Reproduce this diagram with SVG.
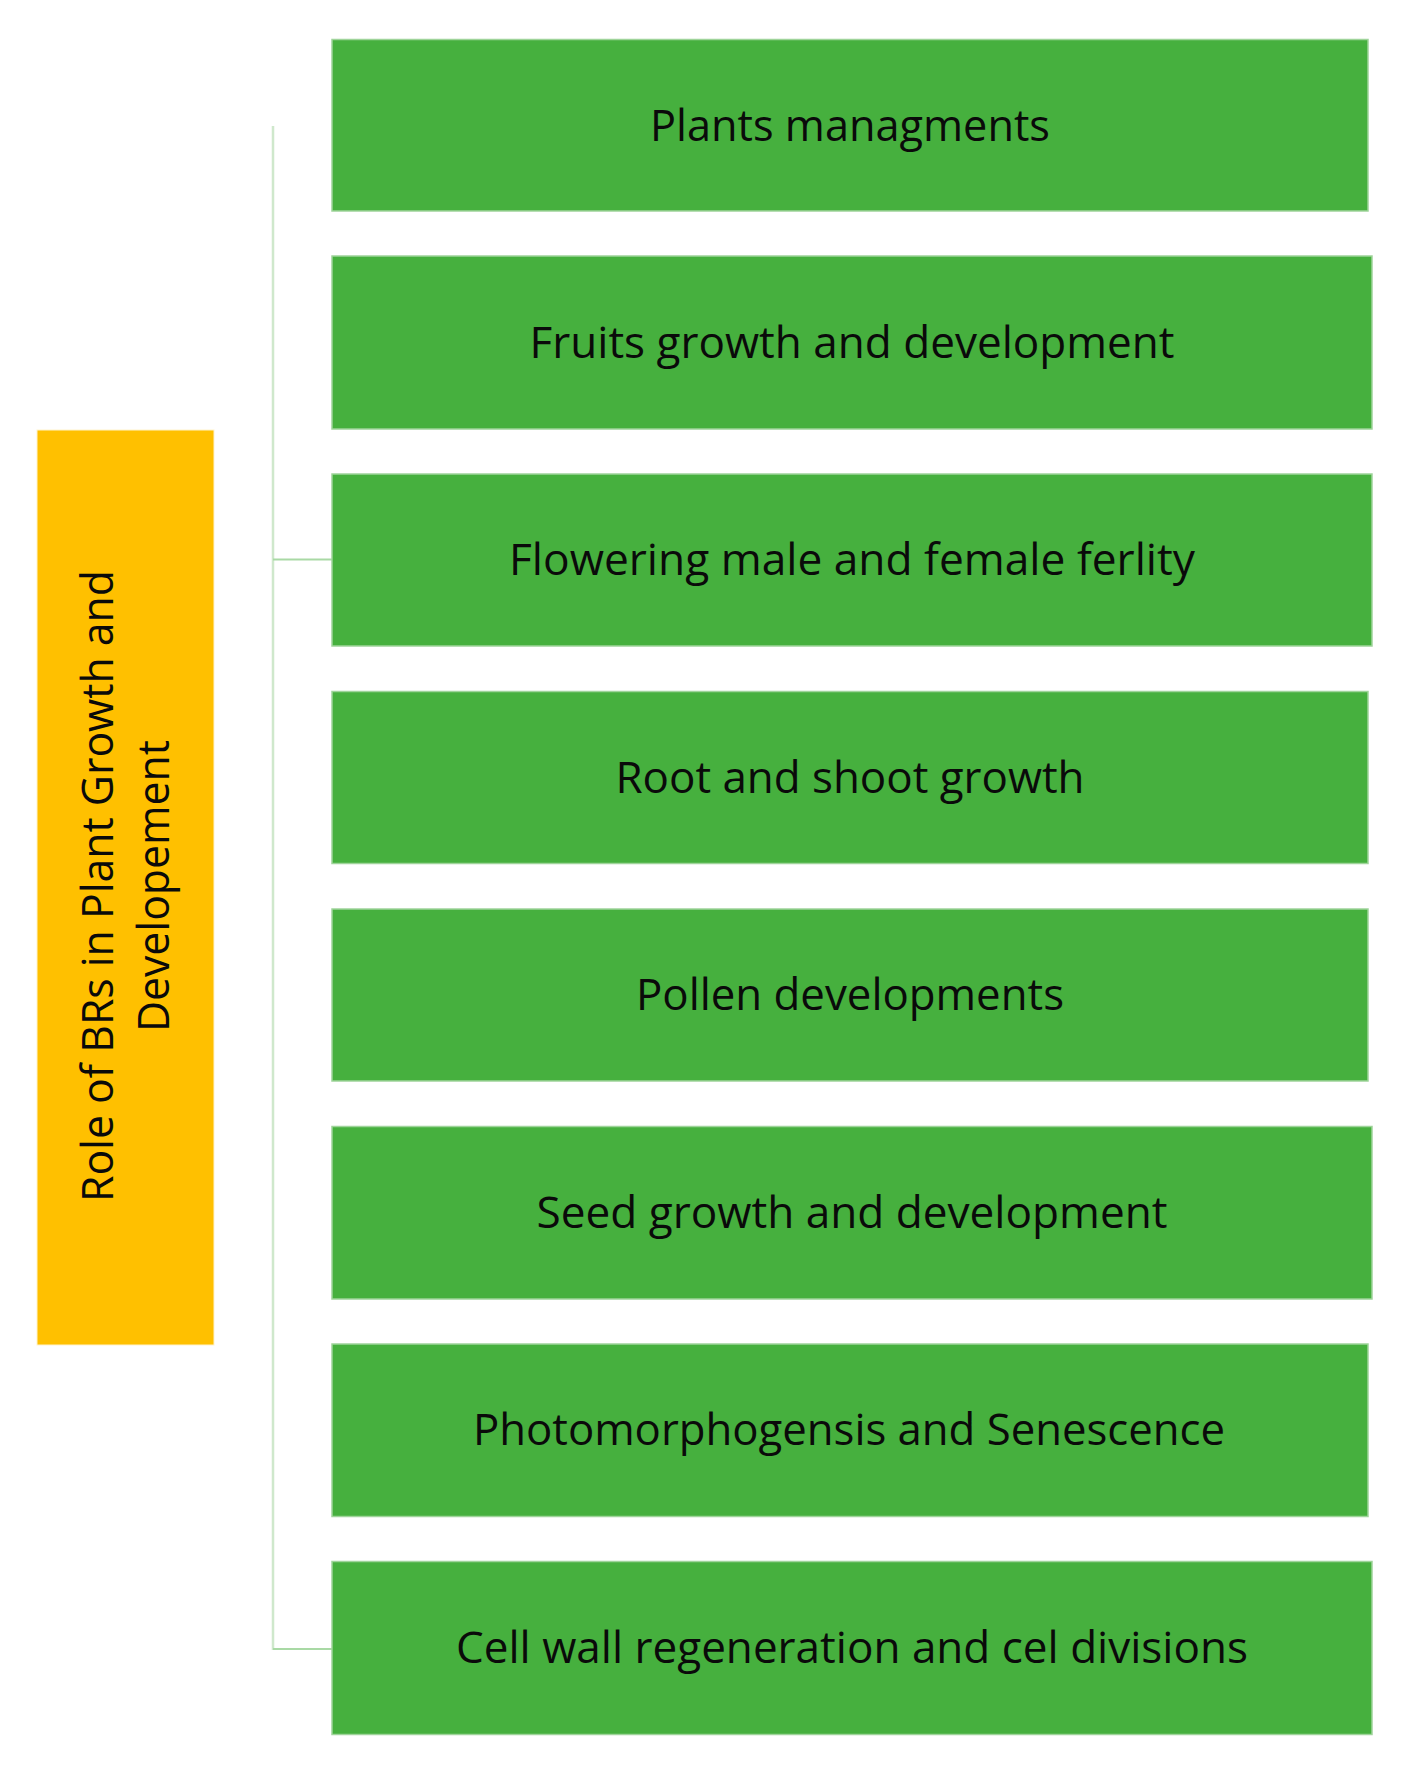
<svg xmlns="http://www.w3.org/2000/svg" width="1408" height="1782" viewBox="0 0 1408 1782">
<style>
.box{fill:#46b03e;stroke:#9fd49a;stroke-width:1.5}
.root{fill:#ffc000;stroke:#fff3cc;stroke-width:1}
.lbl{font-family:"Open Sans","Noto Sans",sans-serif;font-size:44px;fill:#0a0a0a;text-anchor:middle}
.conn{fill:none;stroke:#a9d9a5;stroke-width:2}
.spine{fill:none;stroke:#cfe8cc;stroke-width:2.5}
</style>
<rect width="1408" height="1782" fill="#ffffff"/>
<g id="connectors">
<line class="spine" x1="273" y1="126" x2="273" y2="1650"/>
<line class="conn" x1="273" y1="559.5" x2="332" y2="559.5"/>
<line class="conn" x1="273" y1="1649" x2="332" y2="1649"/>
</g>
<g id="root">
<rect class="root" x="37" y="430" width="177" height="915"/>
<text class="lbl" transform="translate(113,886) rotate(-90)" textLength="632" lengthAdjust="spacingAndGlyphs">Role of BRs in Plant Growth and</text>
<text class="lbl" transform="translate(169,886) rotate(-90)" textLength="292" lengthAdjust="spacingAndGlyphs">Developement</text>
</g>
<g id="n1">
<rect class="box" x="332" y="39.5" width="1036" height="171.5"/>
<text class="lbl" x="850" y="141" textLength="400" lengthAdjust="spacingAndGlyphs">Plants managments</text>
</g>
<g id="n2">
<rect class="box" x="332" y="256" width="1040" height="173"/>
<text class="lbl" x="852" y="358" textLength="645" lengthAdjust="spacingAndGlyphs">Fruits growth and development</text>
</g>
<g id="n3">
<rect class="box" x="332" y="474" width="1040" height="172"/>
<text class="lbl" x="852" y="575" textLength="686" lengthAdjust="spacingAndGlyphs">Flowering male and female ferlity</text>
</g>
<g id="n4">
<rect class="box" x="332" y="691.5" width="1036" height="172"/>
<text class="lbl" x="850" y="793" textLength="469" lengthAdjust="spacingAndGlyphs">Root and shoot growth</text>
</g>
<g id="n5">
<rect class="box" x="332" y="909" width="1036" height="172"/>
<text class="lbl" x="850" y="1010" textLength="428" lengthAdjust="spacingAndGlyphs">Pollen developments</text>
</g>
<g id="n6">
<rect class="box" x="332" y="1126.5" width="1040" height="172.5"/>
<text class="lbl" x="852" y="1228" textLength="631" lengthAdjust="spacingAndGlyphs">Seed growth and development</text>
</g>
<g id="n7">
<rect class="box" x="332" y="1344" width="1036" height="172.5"/>
<text class="lbl" x="849" y="1445" textLength="752" lengthAdjust="spacingAndGlyphs">Photomorphogensis and Senescence</text>
</g>
<g id="n8">
<rect class="box" x="332" y="1561.5" width="1040" height="173"/>
<text class="lbl" x="852" y="1663" textLength="792" lengthAdjust="spacingAndGlyphs">Cell wall regeneration and cel divisions</text>
</g>
</svg>
